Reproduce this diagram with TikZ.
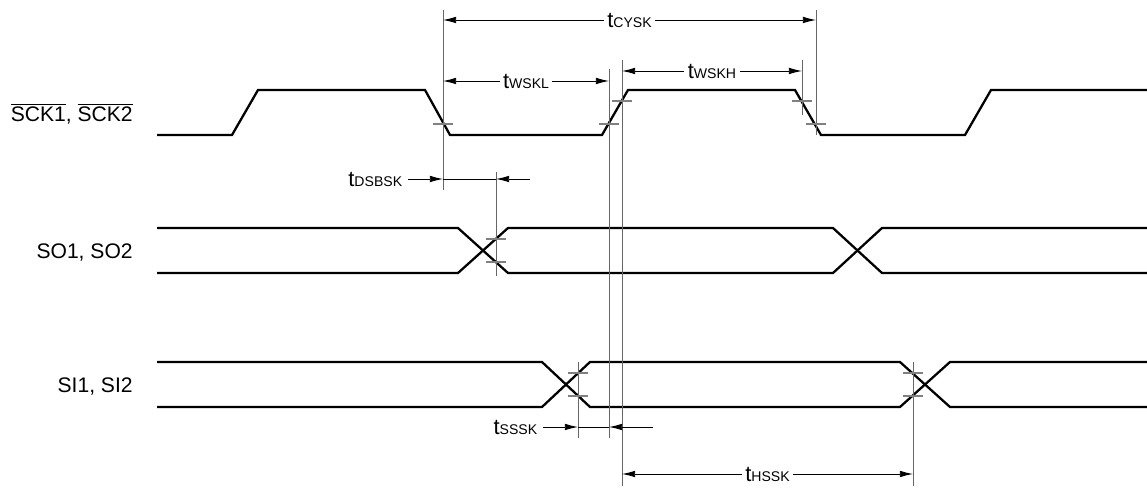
\documentclass[tikz,border=0pt]{standalone}
\usepackage{fontspec}
\setmainfont{Liberation Sans}
\usetikzlibrary{arrows.meta}

\tikzset{
  sig/.style={line width=1.3pt},
  refline/.style={black!60, line width=0.5pt},
  tickmark/.style={black!50, line width=0.8pt},
  dim/.style={line width=0.5pt, {Latex[length=7.5pt,width=3.8pt]}-{Latex[length=7.5pt,width=3.8pt]}},
  half/.style={line width=0.5pt, -{Latex[length=7.5pt,width=3.8pt]}},
  lbl/.style={fill=white, inner sep=2pt, font=\fontsize{12.5}{14}\selectfont},
  signame/.style={anchor=east, inner sep=0pt, font=\fontsize{12}{14}\selectfont},
}
\newcommand{\tsub}[1]{t{\fontsize{8}{9}\selectfont #1}}

\begin{document}
\begin{tikzpicture}[x=0.02cm, y=-0.02cm]
  \useasboundingbox (0,0) rectangle (1147,489);

  %signal names
  \node[signame] (sck) at (133,114) {$\overline{\hbox{SCK1}}$, $\overline{\hbox{SCK2}}$};
  \node[signame] (so) at (133,252) {SO1, SO2};
  \node[signame] (si) at (133,386) {SI1, SI2};

  %SCK
  \draw[sig] (157,135) -- (232,135) -- (258,90) -- (425,90) -- (450,135) -- (602,135)
    -- (628,90) -- (795,90) -- (821,135) -- (965,135) -- (991,90) -- (1147,90);
  %SO
  \draw[sig] (157,228) -- (458,228) -- (508,273) -- (833,273) -- (882,228) -- (1147,228);
  \draw[sig] (157,273) -- (458,273) -- (508,228) -- (833,228) -- (882,273) -- (1147,273);
  %SI
  \draw[sig] (157,362) -- (542,362) -- (590,407) -- (900,407) -- (950,362) -- (1147,362);
  \draw[sig] (157,407) -- (542,407) -- (590,362) -- (900,362) -- (950,407) -- (1147,407);

  %reference lines
  \coordinate (a1) at (443,10);  \coordinate (a2) at (443,190);
  \coordinate (b1) at (609,69);  \coordinate (b2) at (609,438);
  \coordinate (c1) at (622,60);  \coordinate (c2) at (622,486);
  \coordinate (d1) at (802,60);  \coordinate (d2) at (802,115);
  \coordinate (e1) at (816,10);  \coordinate (e2) at (816,135);
  \coordinate (f1) at (496,172); \coordinate (f2) at (496,276);
  \coordinate (g1) at (578,362); \coordinate (g2) at (578,438);
  \coordinate (h1) at (913,362); \coordinate (h2) at (913,486);
  \foreach \v in {a,b,c,d,e,f,g,h}
    \draw[refline] (\v1) -- (\v2);

  %threshold ticks
  \foreach \x/\y in {443/124, 609/124, 622/101, 802/101, 816/124,
                     496/239, 496/262, 578/373, 578/396, 913/373, 913/396}
    \draw[tickmark] (\x-10,\y) -- (\x+10,\y);

  %tCYSK
  \coordinate (cy1) at (443,20); \coordinate (cy2) at (816,20);
  \draw[dim] (cy1) -- node[lbl] {\tsub{CYSK}} (cy2);
  %tWSKL
  \coordinate (wl1) at (443,81); \coordinate (wl2) at (609,81);
  \draw[dim] (wl1) -- node[lbl] {\tsub{WSKL}} (wl2);
  %tWSKH
  \coordinate (wh1) at (622,71); \coordinate (wh2) at (802,71);
  \draw[dim] (wh1) -- node[lbl] {\tsub{WSKH}} (wh2);

  %tDSBSK
  \coordinate (ds0) at (408,179); \coordinate (ds1) at (443,179);
  \coordinate (ds2) at (496,179); \coordinate (ds3) at (530,179);
  \node[lbl, anchor=east, fill=none] (dsl) at (406,179) {\tsub{DSBSK}};
  \draw[half] (ds0) -- (ds1);
  \draw[line width=0.5pt] (ds1) -- (ds2);
  \draw[half] (ds3) -- (ds2);

  %tSSSK
  \coordinate (ss0) at (543,427); \coordinate (ss1) at (578,427);
  \coordinate (ss2) at (609,427); \coordinate (ss3) at (653,427);
  \node[lbl, anchor=east, fill=none] (ssl) at (541,427) {\tsub{SSSK}};
  \draw[half] (ss0) -- (ss1);
  \draw[line width=0.5pt] (ss1) -- (ss2);
  \draw[half] (ss3) -- (ss2);

  %tHSSK
  \coordinate (hs1) at (622,474); \coordinate (hs2) at (913,474);
  \draw[dim] (hs1) -- node[lbl] {\tsub{HSSK}} (hs2);
\end{tikzpicture}
\end{document}
